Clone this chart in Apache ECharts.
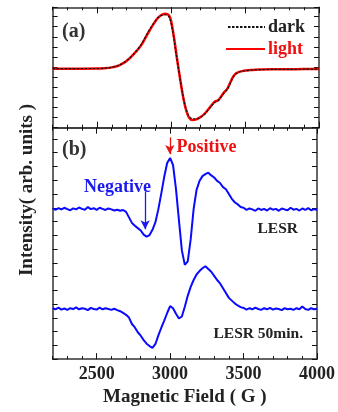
<!DOCTYPE html>
<html>
<head>
<meta charset="utf-8">
<script src="https://cdn.jsdelivr.net/npm/echarts@6/dist/echarts.min.js"></script>
<style>html,body{margin:0;padding:0;background:#fff}#c{width:338px;height:412px}</style>
</head>
<body>
<div id="c"></div>
<script>
// ---- Data ----
var xTickLabels = [2500, 3000, 3500, 4000];
var fieldsA = [2200,2300,2400,2500,2550,2600,2650,2700,2750,2800,2850,2900,2930,2960,2985,3000,3020,3040,3060,3080,3100,3120,3145,3170,3200,3230,3275,3295,3320,3354,3380,3400,3420,3440,3480,3550,3600,3700,3800,3900,4000];
var lightVals = [5.84,5.84,5.84,5.85,5.88,5.97,6.18,6.60,7.30,8.20,9.50,10.65,11.10,11.28,11.15,10.60,8.95,6.90,5.00,3.20,1.85,1.05,0.76,0.82,1.05,1.43,2.24,2.57,2.74,3.41,3.85,4.45,5.05,5.38,5.60,5.72,5.76,5.78,5.79,5.80,5.80];
var darkVals  = [5.86,5.85,5.86,5.86,5.89,5.98,6.20,6.63,7.35,8.28,9.58,10.70,11.08,11.18,11.00,10.40,8.75,6.80,4.95,3.25,1.95,1.18,0.88,0.86,1.02,1.38,2.18,2.50,2.70,3.36,3.80,4.38,5.00,5.36,5.59,5.71,5.75,5.77,5.78,5.79,5.79];

var fieldsL = [2200,2220,2240,2260,2280,2300,2320,2340,2360,2380,2400,2420,2440,2460,2480,2500,2520,2540,2560,2580,2600,2620,2640,2660,2680,2700,2720,2740,2760,2780,2800,2820,2840,2860,2880,2900,2920,2940,2960,2980,3000,3020,3040,3060,3080,3100,3110,3120,3140,3160,3180,3200,3220,3240,3260,3280,3300,3320,3340,3360,3380,3400,3420,3440,3460,3480,3500,3520,3540,3560,3580,3600,3620,3640,3660,3680,3700,3720,3740,3760,3780,3800,3820,3840,3860,3880,3900,3920,3940,3960,3980,4000];
var lesrVals = [10.95,10.85,10.98,10.88,11.00,10.90,10.82,10.96,10.88,11.02,10.92,10.86,11.05,10.90,10.97,10.85,11.00,10.92,10.84,10.95,10.88,10.80,10.86,10.78,10.84,10.70,10.30,9.90,9.70,9.52,9.35,9.05,8.90,9.02,9.40,9.95,10.90,12.05,13.25,14.25,14.62,14.10,12.35,10.10,7.90,6.85,6.75,7.10,8.70,10.90,12.30,12.95,13.30,13.45,13.55,13.35,13.20,12.95,12.80,12.50,12.35,12.00,11.65,11.40,11.25,11.05,11.00,10.85,10.95,10.88,10.78,10.95,10.84,10.92,10.80,10.97,10.86,10.92,10.78,10.95,10.88,10.82,11.00,10.86,10.92,10.80,10.95,10.84,10.98,10.82,10.90,10.86];

var fields50 = [2200,2220,2240,2260,2280,2300,2320,2340,2360,2380,2400,2420,2440,2460,2480,2500,2520,2540,2560,2580,2600,2620,2640,2660,2680,2700,2720,2740,2760,2780,2800,2820,2840,2860,2880,2900,2920,2940,2960,2980,3000,3020,3040,3060,3080,3100,3120,3140,3160,3180,3200,3220,3240,3260,3280,3300,3320,3340,3360,3380,3400,3420,3440,3460,3480,3500,3520,3540,3560,3580,3600,3620,3640,3660,3680,3700,3720,3740,3760,3780,3800,3820,3840,3860,3880,3900,3920,3940,3960,3980,4000];
var lesr50Vals = [3.70,3.62,3.74,3.60,3.68,3.58,3.70,3.64,3.76,3.62,3.70,3.66,3.56,3.72,3.64,3.60,3.74,3.62,3.70,3.64,3.58,3.66,3.56,3.48,3.36,3.22,3.02,2.55,2.30,1.95,1.70,1.38,1.12,0.95,0.82,1.10,1.72,2.28,2.80,3.35,3.85,3.70,3.30,2.95,3.10,3.80,4.60,5.25,5.75,6.15,6.40,6.60,6.75,6.55,6.35,6.05,5.75,5.50,5.15,4.80,4.45,4.25,4.05,3.90,3.78,3.72,3.60,3.70,3.62,3.74,3.64,3.58,3.70,3.62,3.72,3.60,3.68,3.64,3.56,3.70,3.62,3.66,3.58,3.70,3.62,3.82,3.64,3.58,3.70,3.62,3.66];

var negArrow = {field: 2830, from: 12.17, to: 9.44};
var posArrow = {field: 2998, from: 16.12, to: 14.9};

function pairs(xs, ys) { return xs.map(function (x, i) { return [x, ys[i]]; }); }

// ---- Chart ----
var FONT = '"Liberation Serif", "Times New Roman", serif';
var chart = echarts.init(document.getElementById('c'), null, {renderer: 'canvas'});

var gridA = {left: 52.6, right: 19, top: 7.3, height: 120.4};
var gridB = {left: 52.6, right: 19, top: 127.7, height: 235};

function xAx(grid, pos, major, labels) {
  var a = {
    type: 'value', gridIndex: grid, position: pos, min: 2200, max: 4000, interval: 100,
    axisLine: {show: !major, lineStyle: {color: '#333', width: 1.5}},
    axisTick: {show: true, inside: true, length: major ? 6 : 3, lineStyle: {color: '#111', width: 1}},
    axisLabel: {show: false},
    splitLine: {show: false}
  };
  if (major) a.axisTick.customValues = xTickLabels;
  if (labels) {
    a.axisLabel = {show: true, customValues: xTickLabels, margin: 6, color: '#222',
      fontFamily: FONT, fontWeight: 'bold', fontSize: 18,
      formatter: function (v) { return String(v); }};
    a.name = 'Magnetic Field ( G )';
    a.nameLocation = 'middle';
    a.nameGap = 25;
    a.nameTextStyle = {fontFamily: FONT, fontWeight: 'bold', fontSize: 19, color: '#222'};
  }
  return a;
}
function yAx(grid, pos, max) {
  return {
    type: 'value', gridIndex: grid, position: pos, min: 0, max: max, interval: 1,
    axisLine: {show: true, lineStyle: {color: '#333', width: 1.5}},
    axisTick: {show: true, inside: true, length: 5, lineStyle: {color: '#111', width: 1}},
    axisLabel: {show: false},
    splitLine: {show: false}
  };
}

var legendCommon = {itemHeight: 10, itemGap: 0, padding: 0, itemStyle: {opacity: 0, borderWidth: 0}};
var option = {
  animation: false,
  backgroundColor: '#fff',
  grid: [gridA, gridB],
  xAxis: [
    xAx(0, 'bottom', false, false), xAx(0, 'bottom', true, false),
    xAx(0, 'top', false, false), xAx(0, 'top', true, false),
    xAx(1, 'bottom', false, true), xAx(1, 'bottom', true, false),
    xAx(1, 'top', false, false), xAx(1, 'top', true, false)
  ],
  yAxis: [
    yAx(0, 'left', 11.92), yAx(0, 'right', 11.92),
    yAx(1, 'left', 16.82), yAx(1, 'right', 16.82)
  ],
  legend: [
    Object.assign({data: ['dark'], left: 227, top: 18, itemWidth: 37,
      textStyle: {fontFamily: FONT, fontWeight: 'bold', fontSize: 18, color: '#222', padding: [0,0,0,-2]}}, legendCommon),
    Object.assign({data: ['light'], left: 225, top: 40, itemWidth: 39,
      textStyle: {fontFamily: FONT, fontWeight: 'bold', fontSize: 18, color: '#ee1111', padding: [0,0,0,-2]}}, legendCommon)
  ],
  series: [
    {name: 'light', type: 'line', xAxisIndex: 0, yAxisIndex: 0, data: pairs(fieldsA, lightVals),
      smooth: 0.3, symbol: 'none', lineStyle: {color: '#ff0000', width: 2.5}, itemStyle: {color: '#ff0000'}},
    {name: 'dark', type: 'line', xAxisIndex: 0, yAxisIndex: 0, data: pairs(fieldsA, darkVals),
      smooth: 0.3, symbol: 'none', lineStyle: {color: '#111', width: 1.2, type: [2.5, 1.5]}, itemStyle: {color: '#111'}},
    {name: 'LESR', type: 'line', xAxisIndex: 4, yAxisIndex: 2, data: pairs(fieldsL, lesrVals),
      symbol: 'none', lineStyle: {color: '#0a0aff', width: 2}, itemStyle: {color: '#0a0aff'},
      markLine: {silent: true, symbol: ['none', 'arrow'], symbolSize: [7, 9], animation: false,
        label: {show: false},
        data: [
          [{coord: [negArrow.field, negArrow.from], lineStyle: {color: '#1a1aee', width: 1.3, type: 'solid'}},
           {coord: [negArrow.field, negArrow.to]}],
          [{coord: [posArrow.field, posArrow.from], lineStyle: {color: '#ee1111', width: 1.3, type: 'solid'}},
           {coord: [posArrow.field, posArrow.to]}]
        ]}},
    {name: 'LESR 50min.', type: 'line', xAxisIndex: 4, yAxisIndex: 2, data: pairs(fields50, lesr50Vals),
      symbol: 'none', lineStyle: {color: '#0a0aff', width: 2}, itemStyle: {color: '#0a0aff'}}
  ],
  graphic: [
    {type: 'text', x: 62, y: 32, style: {text: '(a)', font: 'bold 20px ' + FONT, fill: '#333', textVerticalAlign: 'middle'}},
    {type: 'text', x: 62, y: 150, style: {text: '(b)', font: 'bold 20px ' + FONT, fill: '#333', textVerticalAlign: 'middle'}},
    {type: 'text', x: 84, y: 187, style: {text: 'Negative', font: 'bold 18px ' + FONT, fill: '#1a1aee', textVerticalAlign: 'middle'}},
    {type: 'text', x: 176.5, y: 147, style: {text: 'Positive', font: 'bold 18px ' + FONT, fill: '#ee1111', textVerticalAlign: 'middle'}},
    {type: 'text', x: 257.5, y: 228.5, style: {text: 'LESR', font: 'bold 15.5px ' + FONT, fill: '#222', textVerticalAlign: 'middle'}},
    {type: 'text', x: 213.5, y: 333.5, style: {text: 'LESR 50min.', font: 'bold 15.5px ' + FONT, fill: '#222', textVerticalAlign: 'middle'}},
    {type: 'text', x: 27.5, y: 190, rotation: Math.PI / 2,
      style: {text: 'Intensity( arb. units )', font: 'bold 19px ' + FONT, fill: '#222', textAlign: 'center', textVerticalAlign: 'middle'}}
  ]
};
chart.setOption(option);
</script>
</body>
</html>
